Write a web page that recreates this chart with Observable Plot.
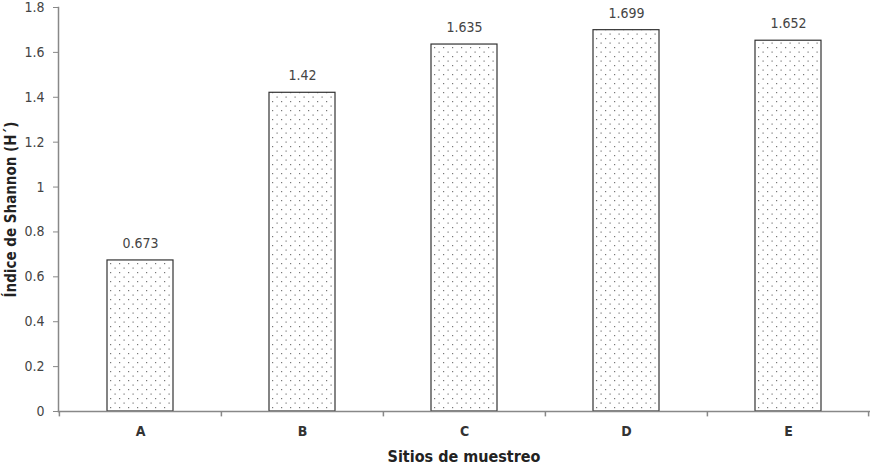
<!DOCTYPE html>
<html><head><meta charset="utf-8">
<script src="https://cdn.jsdelivr.net/npm/d3@7"></script>
<script src="https://cdn.jsdelivr.net/npm/@observablehq/plot@0.6"></script>
<style>body{margin:0;background:#fff} svg text{font-stretch:condensed}</style>
</head><body><div id="chart"></div>
<script>
const sites = ["A", "B", "C", "D", "E"];
const shannon = [0.673, 1.42, 1.635, 1.699, 1.652];
const valueLabels = ["0.673", "1.42", "1.635", "1.699", "1.652"];
const yTicks = [0, 0.2, 0.4, 0.6, 0.8, 1, 1.2, 1.4, 1.6, 1.8];
const yTickLabels = ["0", "0.2", "0.4", "0.6", "0.8", "1", "1.2", "1.4", "1.6", "1.8"];

const data = sites.map((s, i) => ({site: s, value: shannon[i], label: valueLabels[i]}));

const W = 870, H = 467, ML = 58, MR = 1, MT = 7, MB = 56;
const step = (W - ML - MR) / sites.length;
const font = "'DejaVu Sans Condensed', 'DejaVu Sans', sans-serif";

const chart = Plot.plot({
  width: W, height: H,
  marginLeft: ML, marginRight: MR, marginTop: MT, marginBottom: MB,
  style: {fontFamily: font, background: "#fff", color: "#333", overflow: "visible"},
  x: {domain: sites, paddingInner: 0.593, paddingOuter: 0.2965, label: null},
  y: {domain: [0, 1.8], label: null},
  marks: [
    Plot.barY(data, {x: "site", y: "value", fill: "url(#dots)", stroke: "#333", strokeWidth: 1.2}),
    Plot.text(data, {x: "site", y: "value", text: "label", dy: -17, fontSize: 14, fill: "#444"}),
    Plot.frame({anchor: "left", stroke: "#888", strokeWidth: 1.5}),
    Plot.frame({anchor: "bottom", stroke: "#888", strokeWidth: 1.5}),
    Plot.ruleX(sites, {x: d => d, dx: -step / 2, y1: 0, y2: -0.024, stroke: "#888", strokeWidth: 1.5}),
    Plot.ruleX(sites.slice(-1), {x: d => d, dx: step / 2 - 1, y1: 0, y2: -0.024, stroke: "#888", strokeWidth: 1.5}),
    Plot.axisY({ticks: yTicks, tickFormat: d => yTickLabels[yTicks.indexOf(d)], tickSize: 5, tickPadding: 9,
      stroke: "#888", fontSize: 14, fill: "#444",
      label: "Índice de Shannon (H´)", labelAnchor: "center", labelArrow: "none", labelOffset: 53}),
    Plot.axisX({tickSize: 0, tickPadding: 15, fontSize: 14, fontWeight: "bold", fill: "#333",
      label: "Sitios de muestreo", labelAnchor: "center", labelArrow: "none", labelOffset: 50})
  ]
});

const ns = "http://www.w3.org/2000/svg";
const defs = document.createElementNS(ns, "defs");
defs.innerHTML = `<pattern id="dots" patternUnits="userSpaceOnUse" width="9" height="9">
  <rect width="9" height="9" fill="#fff"/>
  <rect x="2" y="2" width="1.2" height="1.2" fill="#777"/>
  <rect x="6.5" y="6.5" width="1.2" height="1.2" fill="#777"/>
</pattern>`;
chart.insertBefore(defs, chart.firstChild);
chart.querySelectorAll("[aria-label='y-axis label'] text").forEach(t => {
  t.setAttribute("font-weight", "bold"); t.setAttribute("font-size", "15"); t.setAttribute("fill", "#222");
});
chart.querySelectorAll("[aria-label='x-axis label'] text").forEach(t => {
  t.setAttribute("font-weight", "bold"); t.setAttribute("font-size", "16"); t.setAttribute("fill", "#222");
});
document.getElementById("chart").appendChild(chart);
</script>
</body></html>
